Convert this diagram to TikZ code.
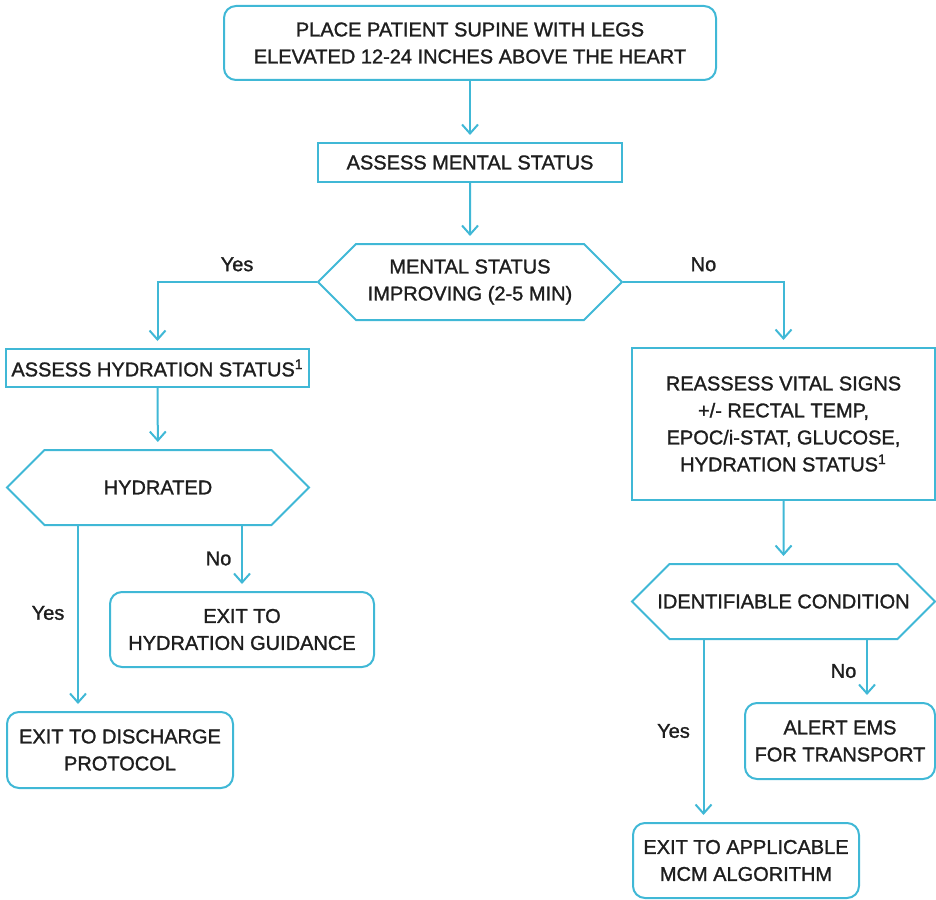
\documentclass[tikz,border=0pt]{standalone}
\usepackage{fontspec}
\setmainfont{Liberation Sans}[FakeBold=1.3]
\usetikzlibrary{arrows.meta, shapes.symbols}
\definecolor{flowcyan}{HTML}{40B8D6}
\definecolor{flowtext}{HTML}{1E1E1E}

\begin{document}
\begin{tikzpicture}[x=0.5pt, y=-0.5pt,
    every node/.style={font=\fontsize{10}{13.5}\selectfont, text=flowtext},
    box/.style={draw=flowcyan, line width=1pt, inner sep=0pt, align=center},
    roundbox/.style={box, rounded corners=6pt},
    decision/.style={box, shape=signal, signal to=west and east, signal pointer angle=90, inner xsep=-25pt},
    arr/.style={draw=flowcyan, line width=1pt, -{Straight Barb[length=4.5pt, width=8pt]}, shorten >=3.5pt}]
    \useasboundingbox (0,0) rectangle (936,899);

    \node[roundbox, minimum width=246pt, minimum height=37pt] (start) at (470,43) {PLACE PATIENT SUPINE WITH LEGS\\ELEVATED 12-24 INCHES ABOVE THE HEART};
    \node[box, minimum width=152pt, minimum height=19.5pt] (mental) at (470,162.5) {ASSESS MENTAL STATUS};
    \node[decision, minimum width=152pt, minimum height=38pt] (improving) at (470,282) {MENTAL STATUS\\IMPROVING (2-5 MIN)};

    % left side
    \node[box, minimum width=151.5pt, minimum height=19pt] (hydration) at (157.5,368) {ASSESS HYDRATION STATUS\textsuperscript{1}};
    \node[decision, minimum width=151pt, minimum height=37.5pt] (hydrated) at (158,487.5) {HYDRATED};
    \node[roundbox, minimum width=132pt, minimum height=37.5pt] (guidance) at (242,629.5) {EXIT TO\\HYDRATION GUIDANCE};
    \node[roundbox, minimum width=113pt, minimum height=38pt] (discharge) at (120,750) {EXIT TO DISCHARGE\\PROTOCOL};

    % right side
    \node[box, minimum width=151.5pt, minimum height=76pt] (reassess) at (783.5,424) {REASSESS VITAL SIGNS\\+/- RECTAL TEMP,\\EPOC/i-STAT, GLUCOSE,\\HYDRATION STATUS\textsuperscript{1}};
    \node[decision, minimum width=151.5pt, minimum height=37.5pt] (condition) at (783.5,601.5) {IDENTIFIABLE CONDITION};
    \node[roundbox, minimum width=95pt, minimum height=38pt] (alert) at (840,741) {ALERT EMS\\FOR TRANSPORT};
    \node[roundbox, minimum width=113pt, minimum height=37.5pt] (mcm) at (746,860.5) {EXIT TO APPLICABLE\\MCM ALGORITHM};

    \draw[arr] (start) -- (mental);
    \draw[arr] (mental) -- (improving);
    \draw[arr] (improving.west) -| node[pos=0.25, above=1.5pt] (yes1) {Yes} (hydration.north);
    \draw[arr] (improving.east) -| node[pos=0.25, above=1.5pt] (no1) {No} (reassess.north);

    \draw[arr] (hydration) -- (hydrated);
    \draw[arr] (hydrated.south) ++(-80,0) coordinate (yesA) -- node[pos=0.47, left=3pt] (yes2) {Yes} (yesA |- discharge.north);
    \draw[arr] (hydrated.south -| guidance.north) -- node[left=1.5pt] (no2) {No} (guidance.north);

    \draw[arr] (reassess) -- (condition);
    \draw[arr] (condition.south) ++(-80,0) coordinate (yesB) -- node[left=3pt] (yes3) {Yes} (yesB |- mcm.north);
    \draw[arr] (condition.south) ++(83.5,0) coordinate (noB) -- node[left=1.5pt] (no3) {No} (noB |- alert.north);
\end{tikzpicture}
\end{document}
